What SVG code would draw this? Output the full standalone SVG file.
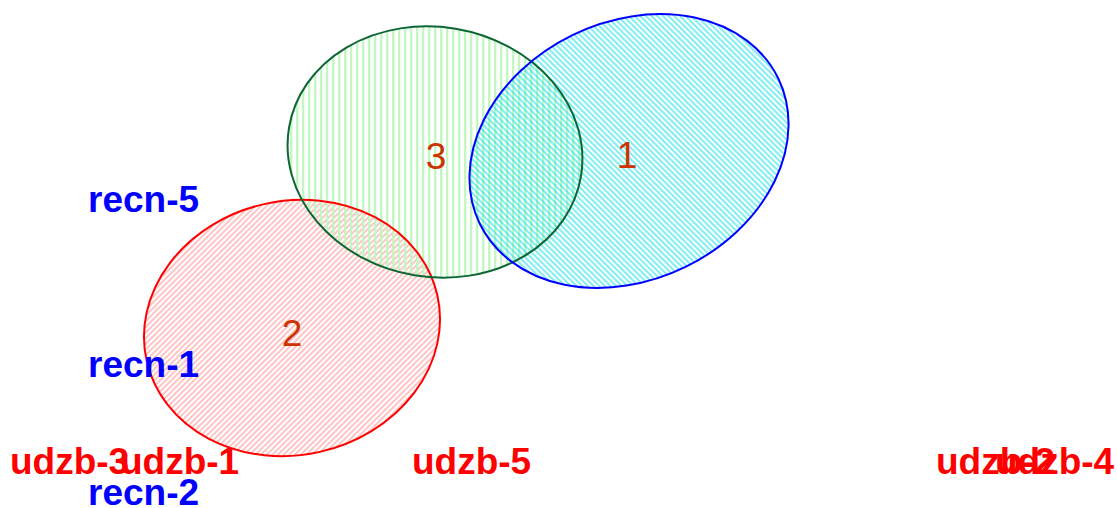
<svg xmlns="http://www.w3.org/2000/svg" width="1117" height="508" viewBox="0 0 1117 508">
<style>
.num{font-family:"Liberation Sans",Arial,sans-serif;font-size:37px;fill:#cc3300;text-anchor:middle}
.lab{font-family:"Liberation Sans",Arial,sans-serif;font-size:37px;font-weight:bold}
.blue{fill:#0000ff}
.red{fill:#ff0000}
.edge{fill:none;stroke-width:2}
</style>
<defs>
<pattern id="hRed" width="4" height="4" patternUnits="userSpaceOnUse" patternTransform="rotate(57.7)">
<line x1="1" y1="0" x2="1" y2="4" stroke="#ff8a8a" stroke-width="1"/>
</pattern>
<pattern id="hGreen" width="6" height="6" patternUnits="userSpaceOnUse" patternTransform="rotate(-9.5)">
<rect x="1" y="0" width="2.4" height="6" fill="#c2f7c2"/>
</pattern>
<pattern id="hBlue" width="4" height="4" patternUnits="userSpaceOnUse" patternTransform="rotate(-19)">
<line x1="1" y1="0" x2="1" y2="4" stroke="#00e0e8" stroke-width="1"/>
</pattern>
</defs>
<g id="set2">
<ellipse cx="292" cy="328" rx="149" ry="127" transform="rotate(-12.7 292 328)" fill="url(#hRed)"/>
</g>
<g id="set3">
<ellipse cx="435" cy="152" rx="148" ry="125" transform="rotate(9.5 435 152)" fill="url(#hGreen)"/>
</g>
<g id="set1">
<ellipse cx="629" cy="151" rx="166" ry="129" transform="rotate(-26 629 151)" fill="url(#hBlue)"/>
</g>
<g id="outlines">
<ellipse class="edge" cx="292" cy="328" rx="149" ry="127" transform="rotate(-12.7 292 328)" stroke="#ff0000"/>
<ellipse class="edge" cx="435" cy="152" rx="148" ry="125" transform="rotate(9.5 435 152)" stroke="#0b6633"/>
<ellipse class="edge" cx="629" cy="151" rx="166" ry="129" transform="rotate(-26 629 151)" stroke="#0000ff"/>
</g>
<g id="counts">
<text class="num" x="436" y="169">3</text>
<text class="num" x="627" y="168">1</text>
<text class="num" x="292" y="346">2</text>
</g>
<g id="labels">
<text class="lab blue" x="88" y="212">recn-5</text>
<text class="lab blue" x="88" y="377">recn-1</text>
<text class="lab blue" x="88" y="505">recn-2</text>
<text class="lab red" x="10" y="474">udzb-3</text>
<text class="lab red" x="120" y="474">udzb-1</text>
<text class="lab red" x="412" y="474">udzb-5</text>
<text class="lab red" x="936" y="474">udzb-2</text>
<text class="lab red" x="995" y="474">udzb-4</text>
</g>
</svg>
